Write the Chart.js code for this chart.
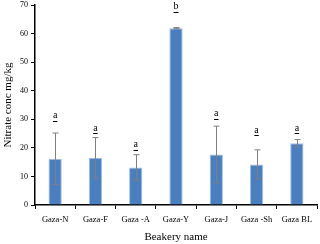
<!DOCTYPE html>
<html><head><meta charset="utf-8">
<script src="https://cdn.jsdelivr.net/npm/chart.js@4/dist/chart.umd.min.js"></script>
<style>html,body{margin:0;padding:0;background:#fff}#w{width:320px;height:244px}</style>
</head><body><div id="w"><canvas id="c"></canvas></div>
<script>
const categories = ['Gaza-N','Gaza-F','Gaza -A','Gaza-Y','Gaza-J','Gaza -Sh','Gaza BL'];
const nitrateMeans = [16.2, 16.5, 13.1, 61.9, 17.7, 14.2, 21.6];
const nitrateSD = [9.0, 7.1, 4.5, 0.2, 9.9, 5.1, 1.3];
const groupLetters = ['a','a','a','b','a','a','a'];
const letterHeights = [31.3, 26.8, 21.1, 69.4, 32.0, 26.1, 26.8];
const yTicks = [0,10,20,30,40,50,60,70];

const serif = '"Liberation Serif", "Times New Roman", serif';

const errorBars = {
  id:'errorBars',
  afterDatasetsDraw(chart){
    const {ctx, scales:{x,y}} = chart;
    ctx.save();
    ctx.strokeStyle = '#7f7f7f';
    ctx.lineWidth = 1;
    nitrateMeans.forEach((m,i)=>{
      const px = Math.round(x.getPixelForValue(i))+0.5;
      const t = y.getPixelForValue(m+nitrateSD[i]);
      const b = y.getPixelForValue(m-nitrateSD[i]);
      ctx.beginPath();
      ctx.moveTo(px,t); ctx.lineTo(px,b);
      ctx.moveTo(px-3,t); ctx.lineTo(px+3,t);
      ctx.moveTo(px-3,b); ctx.lineTo(px+3,b);
      ctx.stroke();
    });
    ctx.fillStyle = '#000';
    ctx.strokeStyle = '#000';
    ctx.font = '10px '+serif;
    ctx.textAlign = 'center';
    ctx.textBaseline = 'middle';
    groupLetters.forEach((L,i)=>{
      const px = x.getPixelForValue(i);
      const py = y.getPixelForValue(letterHeights[i]);
      ctx.fillText(L, px, py);
      const w = ctx.measureText(L).width;
      ctx.beginPath();
      ctx.moveTo(px-w/2, Math.round(py+5)+0.5);
      ctx.lineTo(px+w/2, Math.round(py+5)+0.5);
      ctx.stroke();
    });
    ctx.restore();
  }
};

new Chart(document.getElementById('c'), {
  type:'bar',
  data:{labels:categories, datasets:[{
    data:nitrateMeans,
    backgroundColor:'#4a7ebf',
    borderColor:'#9fc0e8',
    borderWidth:1,
    barPercentage:0.33,
    categoryPercentage:1
  }]},
  options:{
    responsive:true, maintainAspectRatio:false, animation:false,
    devicePixelRatio:1,
    layout:{padding:{top:5,right:3,left:2,bottom:0}},
    plugins:{legend:{display:false}, tooltip:{enabled:false}},
    scales:{
      x:{
        grid:{drawOnChartArea:false, drawTicks:true, tickLength:4, color:'#000', offset:true},
        border:{color:'#000', width:1.5},
        ticks:{color:'#000', font:{family:serif, size:8.5}, padding:6, maxRotation:0, autoSkip:false},
        title:{display:true, text:'Beakery name', color:'#000', font:{family:serif, size:11}, padding:{top:6,bottom:0}},
        afterFit(s){ s.height = 39; s.paddingLeft = 0; s.paddingRight = 0; }
      },
      y:{
        min:0, max:70,
        afterBuildTicks(s){ s.ticks = yTicks.map(v=>({value:v})); },
        grid:{drawOnChartArea:false, drawTicks:true, tickLength:4, color:'#000'},
        border:{color:'#000', width:1.5},
        ticks:{color:'#000', font:{family:serif, size:8}, padding:3},
        title:{display:true, text:'Nitrate conc mg/kg', color:'#000', font:{family:serif, size:11}, padding:{top:0,bottom:2}},
        afterFit(s){ s.width = 33; s.paddingTop = 0; s.paddingBottom = 0; }
      }
    }
  },
  plugins:[errorBars]
});
</script></body></html>
